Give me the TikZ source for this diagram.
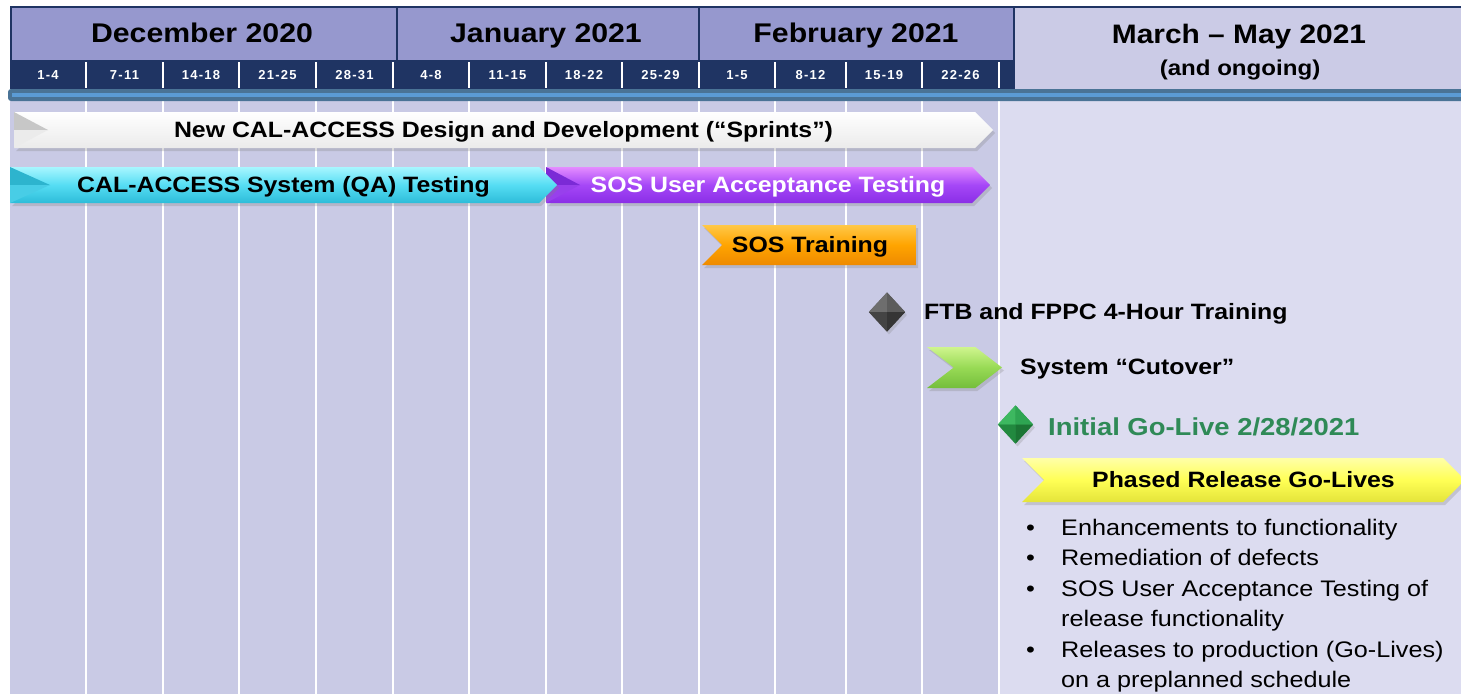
\documentclass[tikz,border=0pt]{standalone}
\usepackage{fontspec}
\setmainfont[FakeStretch=1.12]{Liberation Sans}
\newfontfamily\weekfont[LetterSpace=10]{Liberation Sans}
\usetikzlibrary{shapes.symbols,shapes.geometric,shadows}
\definecolor{navy}{HTML}{1F3463}
\definecolor{monthfill}{HTML}{9698CE}
\definecolor{lightcol}{HTML}{CBCBE6}
\definecolor{gridcol}{HTML}{C9CAE5}
\definecolor{rightcol}{HTML}{DCDCF0}
\definecolor{bandout}{HTML}{4A7396}
\definecolor{bandin}{HTML}{5B9BD5}
\definecolor{golive}{HTML}{2F8A57}
\definecolor{purT}{HTML}{E48CFF}\definecolor{purM}{HTML}{A547F7}\definecolor{purB}{HTML}{8A2EE6}
\definecolor{cyaT}{HTML}{A8F6FF}\definecolor{cyaM}{HTML}{55DDF3}\definecolor{cyaB}{HTML}{2DBCD9}
\definecolor{oraT}{HTML}{FFC848}\definecolor{oraM}{HTML}{FFA400}\definecolor{oraB}{HTML}{EE8A00}
\definecolor{lgrT}{HTML}{CFF58E}\definecolor{lgrM}{HTML}{98DA55}\definecolor{lgrB}{HTML}{74BE3C}
\definecolor{yelT}{HTML}{FFFFA8}\definecolor{yelM}{HTML}{FFFF55}\definecolor{yelB}{HTML}{E4E43A}
\definecolor{pv1}{HTML}{7B2AD6}\definecolor{pv2}{HTML}{9840EC}
\definecolor{cv1}{HTML}{2DB4CE}\definecolor{cv2}{HTML}{48CDE6}
\definecolor{gd0}{HTML}{4A4A4A}\definecolor{gd1}{HTML}{6E6E6E}\definecolor{gd2}{HTML}{5C5C5C}
\definecolor{gd3}{HTML}{444444}\definecolor{gd4}{HTML}{353535}
\definecolor{ed0}{HTML}{2A9A4A}\definecolor{ed1}{HTML}{3DB860}\definecolor{ed2}{HTML}{2EA552}
\definecolor{ed3}{HTML}{22893F}\definecolor{ed4}{HTML}{1B7534}
\newcommand\setfs[1]{\fontsize{#1}{#1}\selectfont}
\tikzset{
  capbox/.style={text height=#1, text depth=0pt},
  monthbox/.style={draw=navy, line width=1.5pt, fill=monthfill, inner sep=0pt, anchor=north west,
    minimum height=54pt},
  monthlbl/.style={capbox=19.3pt, inner sep=0pt, font=\bfseries\setfs{27}},
  weeklbl/.style={capbox=9.3pt, text=white, font=\weekfont\bfseries\setfs{13}, inner sep=0pt},
  gridline/.style={white, line width=2pt},
  barshape/.style={signal, signal from=west, signal to=east, signal pointer angle=90,
    inner sep=0pt, capbox=15.9pt, font=\bfseries\setfs{22.2},
    drop shadow={shadow xshift=2pt, shadow yshift=-3pt, opacity=0.28}},
  gem/.style={diamond, inner sep=0pt, minimum width=36pt, minimum height=39pt,
    drop shadow={shadow xshift=2pt, shadow yshift=-3pt, opacity=0.25}},
  label/.style={anchor=west, inner sep=0pt, capbox=15.9pt, font=\bfseries\setfs{22.2}},
  bullet/.style={anchor=west, inner sep=0pt, capbox=16.1pt, font=\setfs{22.5}},
}
\begin{document}
\begin{tikzpicture}[x=1pt,y=-1pt]
\useasboundingbox (0,0) rectangle (1461,694);
\clip (0,0) rectangle (1461,694);
% ---- lower grid
\fill[gridcol] (10,101) rectangle (999,694);
\fill[rightcol] (999,101) rectangle (1461,694);
\foreach \x in {86,163,239,316,393,469,546,622,699,775,846,922,999}
  \draw[gridline] (\x,101) -- (\x,694);
% ---- header: months
\node[monthbox, minimum width=386pt] (dec) at (10,6) {};
\node[monthbox, minimum width=302pt] (jan) at (396,6) {};
\node[monthbox, minimum width=315pt] (feb) at (698,6) {};
\node[draw=navy, line width=1.5pt, fill=lightcol, inner sep=0pt, anchor=north west,
  minimum width=450pt, minimum height=83pt] (mar) at (1013,6) {};
\node[monthlbl] (dect) at (202,33) {December 2020};
\node[monthlbl] (jant) at (546,33) {January 2021};
\node[monthlbl] (febt) at (856,33) {February 2021};
\node[monthlbl, font=\bfseries\setfs{26.7}] (mart) at (1239,34) {March – May 2021};
\node[monthlbl, capbox=15.4pt, font=\bfseries\setfs{21.5}] (ongo) at (1240,68) {(and ongoing)};
% ---- header: weeks
\fill[navy] (10,60) rectangle (1013,89);
\foreach \x in {86,163,239,316,393,469,546,622,699,775,846,922,999}
  \draw[white, line width=2pt] (\x,62) -- (\x,88);
\foreach \c/\t [count=\i] in {48/1-4, 124.5/7-11, 201/14-18, 277.5/21-25, 354.5/28-31,
   431/4-8, 507.5/11-15, 584/18-22, 660.5/25-29, 737/1-5, 810.5/8-12, 884/15-19, 960.5/22-26}
  \node[weeklbl] (w\i) at (\c,74.5) {\t};
% ---- blue band
\fill[bandout, rounded corners=3pt] (8,89) rectangle (1470,101);
\draw[bandin, line width=4pt] (12,95) -- (1470,95);
% ---- bars
\node[barshape, minimum width=979pt, minimum height=36pt,
  top color=white, bottom color=black!8] (sprint) at (503.5,130)
  {New CAL-ACCESS Design and Development (“Sprints”)};
\fill[black!22] (14,112) -- (48,130) -- (14,130) -- cycle;
\fill[black!8] (14,130) -- (48,130) -- (14,148) -- cycle;
\node[barshape, minimum width=444pt, minimum height=36pt,
  top color=purT, bottom color=purB, middle color=purM] (uat) at (768,185)
  {\textcolor{white}{SOS User Acceptance Testing}};
\fill[pv1] (546,167) -- (580,185) -- (546,185) -- cycle;
\fill[pv2] (546,185) -- (580,185) -- (546,203) -- cycle;
\node[barshape, minimum width=547pt, minimum height=36pt,
  top color=cyaT, bottom color=cyaB, middle color=cyaM] (qa) at (283.5,185)
  {CAL-ACCESS System (QA) Testing};
\fill[cv1] (10,167) -- (50,185) -- (10,185) -- cycle;
\fill[cv2] (10,185) -- (50,185) -- (10,203) -- cycle;
\node[barshape, signal to=nowhere, minimum width=214pt, minimum height=40pt,
  top color=oraT, bottom color=oraB, middle color=oraM] (train) at (819,245) {};
\node[label, anchor=center] (trainlbl) at (810,245) {SOS Training};
% gray milestone
\node[gem, fill=gd0] (ftb) at (887,312) {};
\fill[gd1] (ftb.north) -- (ftb.west) -- (ftb.center) -- cycle;
\fill[gd2] (ftb.north) -- (ftb.east) -- (ftb.center) -- cycle;
\fill[gd3] (ftb.south) -- (ftb.west) -- (ftb.center) -- cycle;
\fill[gd4] (ftb.south) -- (ftb.east) -- (ftb.center) -- cycle;
\node[label] (ftbt) at (924,312) {FTB and FPPC 4-Hour Training};
% cutover chevron
\node[barshape, signal pointer angle=75, minimum width=75pt, minimum height=41pt,
  top color=lgrT, bottom color=lgrB, middle color=lgrM] (cut) at (964.5,367.5) {};
\node[label] (cutt) at (1020,367) {System “Cutover”};
% green milestone
\node[gem, minimum width=35pt, minimum height=38pt, fill=ed0] (go) at (1015.5,424.5) {};
\fill[ed1] (go.north) -- (go.west) -- (go.center) -- cycle;
\fill[ed2] (go.north) -- (go.east) -- (go.center) -- cycle;
\fill[ed3] (go.south) -- (go.west) -- (go.center) -- cycle;
\fill[ed4] (go.south) -- (go.east) -- (go.center) -- cycle;
\node[label, capbox=17.5pt, text=golive, font=\bfseries\setfs{24.5}] (got) at (1048,427) {Initial Go-Live 2/28/2021};
\node[barshape, minimum width=443pt, minimum height=44pt,
  top color=yelT, bottom color=yelB, middle color=yelM] (phase) at (1243.5,480)
  {Phased Release Go-Lives};
% ---- bullets
\foreach \y/\t [count=\i] in {527/Enhancements to functionality, 557/Remediation of defects,
   588/SOS User Acceptance Testing of, 618/release functionality,
   649/Releases to production (Go-Lives), 679/on a preplanned schedule}
  \node[bullet] (b\i) at (1061,\y) {\t};
\foreach \y [count=\i] in {527,557,588,649}
  \node[bullet] (d\i) at (1026,\y) {•};
\end{tikzpicture}
\end{document}
